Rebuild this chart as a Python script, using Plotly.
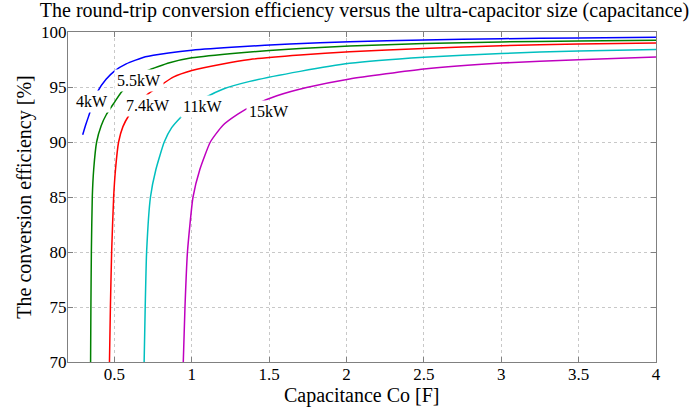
import plotly.graph_objects as go

# capacitance (F) and round-trip efficiency (%) for each charger power
c_4kw = [0.295, 0.314, 0.333, 0.36, 0.392, 0.446, 0.5, 0.576, 0.7, 0.85, 1.0, 1.31, 1.634, 2.02, 2.5, 3.0, 3.5, 4.0]
e_4kw = [90.66, 91.55, 92.33, 93.5, 94.6, 95.7, 96.45, 97.1, 97.75, 98.1, 98.35, 98.66, 98.9, 99.12, 99.28, 99.39, 99.46, 99.52]

c_55kw = [0.346, 0.348, 0.351, 0.357, 0.366, 0.385, 0.415, 0.448, 0.5, 0.543, 0.6, 0.65, 0.716, 0.856, 1.0, 1.3, 1.7, 2.02, 2.5, 3.0, 3.5, 4.0]
e_55kw = [70, 75, 80, 85, 87.5, 90, 91.5, 92.5, 93.6, 94.5, 95.3, 95.9, 96.5, 97.2, 97.65, 98.1, 98.5, 98.72, 98.95, 99.1, 99.18, 99.24]

c_74kw = [0.468, 0.474, 0.482, 0.495, 0.507, 0.527, 0.555, 0.597, 0.65, 0.72, 0.803, 0.88, 1.0, 1.2, 1.375, 1.7, 2.02, 2.5, 3.0, 3.5, 4.0]
e_74kw = [70, 75, 80, 85, 87.5, 90, 91.4, 92.5, 93.5, 94.4, 95.2, 95.9, 96.5, 97.1, 97.5, 97.9, 98.2, 98.5, 98.75, 98.9, 99.0]

c_11kw = [0.692, 0.699, 0.708, 0.733, 0.768, 0.822, 0.87, 0.932, 1.0, 1.094, 1.2, 1.375, 1.7, 2.02, 2.5, 3.0, 3.5, 4.0]
e_11kw = [70, 75, 80, 85, 87.5, 90, 91.3, 92.3, 93.2, 94.09, 94.8, 95.51, 96.42, 97.15, 97.7, 98.05, 98.28, 98.42]

c_15kw = [0.945, 0.956, 0.972, 1.008, 1.052, 1.12, 1.2, 1.3, 1.4, 1.55, 1.742, 2.02, 2.5, 3.0, 3.5, 4.0]
e_15kw = [70, 75, 80, 85, 87.5, 90, 91.5, 92.55, 93.35, 94.2, 94.95, 95.73, 96.64, 97.18, 97.48, 97.73]

labels = ['4kW', '5.5kW', '7.4kW', '11kW', '15kW']
colors = ['#0000FF', '#008000', '#FF0000', '#00BFBF', '#BF00BF']
label_x = [0.357, 0.66, 0.72, 1.067, 1.498]
label_y = [93.65, 95.6, 93.3, 93.2, 92.8]

x_ticks = [0.5, 1, 1.5, 2, 2.5, 3, 3.5, 4]
x_ticktext = ['0.5', '1', '1.5', '2', '2.5', '3', '3.5', '4']

serif = 'Liberation Serif, Times New Roman, serif'

fig = go.Figure()

series = [(c_4kw, e_4kw), (c_55kw, e_55kw), (c_74kw, e_74kw), (c_11kw, e_11kw), (c_15kw, e_15kw)]
for (cx, ey), name, col in zip(series, labels, colors):
    fig.add_trace(go.Scatter(
        x=cx, y=ey, mode='lines', name=name,
        line=dict(color=col, width=1.5, shape='spline', smoothing=0.5),
    ))

# inline curve labels with white boxes (like MATLAB text with background)
for lx, ly, txt in zip(label_x, label_y, labels):
    fig.add_annotation(
        x=lx, y=ly, text=txt, showarrow=False,
        font=dict(family=serif, size=16, color='black'),
        bgcolor='white', borderpad=2,
    )

# x axis title as an annotation so its position can be set exactly
fig.add_annotation(
    text='Capacitance Co [F]', xref='paper', yref='paper', x=0.5, y=-0.1,
    xanchor='center', yanchor='middle', showarrow=False,
    font=dict(family=serif, size=20, color='black'),
)

axis_common = dict(
    showline=True, linecolor='#808080', linewidth=1, mirror='ticks',
    ticks='inside', ticklen=5, tickcolor='#808080',
    showgrid=True, gridcolor='#c8c8c8', griddash='dot', gridwidth=1,
    zeroline=False, automargin=False,
    tickfont=dict(family=serif, size=17, color='black'),
)

fig.update_xaxes(
    range=[0.2, 4], tickvals=x_ticks, ticktext=x_ticktext,
    ticklabelstandoff=-3,
    **axis_common,
)
fig.update_yaxes(
    range=[70, 100], dtick=5,
    title=dict(text='The conversion efficiency [%]', font=dict(family=serif, size=20, color='black'), standoff=4),
    ticklabelstandoff=-3,
    **axis_common,
)

fig.update_layout(
    width=693, height=409,
    margin=dict(l=68, r=37, t=32, b=47),
    paper_bgcolor='white', plot_bgcolor='white',
    showlegend=False,
    title=dict(
        text='The round-trip conversion efficiency versus the ultra-capacitor size (capacitance)',
        font=dict(family=serif, size=20, color='black'),
        x=0.526, xanchor='center', y=0.975, yanchor='middle',
    ),
)

# drop the default page margin so the figure sits at the window's corner
fig.write_html('out.html', config={'displayModeBar': False},
               post_script="document.body.style.margin='0';")
